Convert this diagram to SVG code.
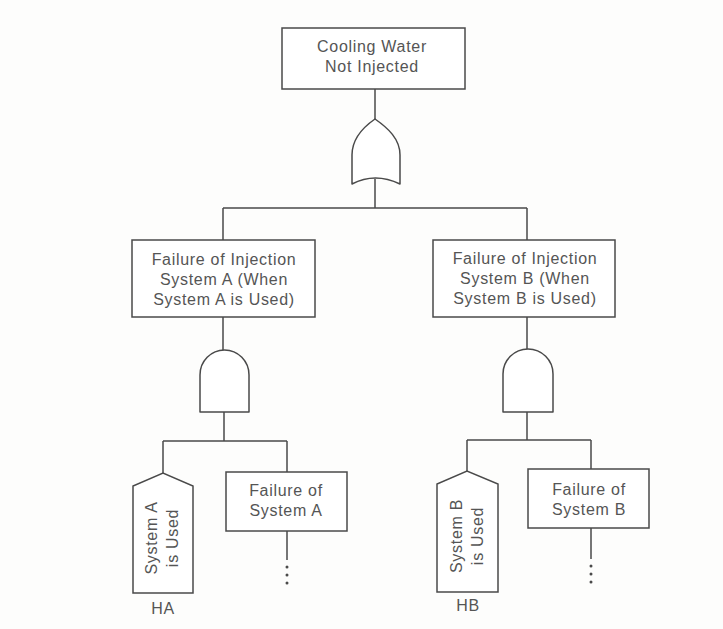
<svg xmlns="http://www.w3.org/2000/svg" width="723" height="629" viewBox="0 0 723 629">
<style>
.bg{fill:#fdfdfc}
.box{fill:#ffffff;stroke:#4a4a4a;stroke-width:1.5}
.gate{fill:#ffffff;stroke:#4a4a4a;stroke-width:1.5;stroke-linejoin:round}
.ln{fill:none;stroke:#4a4a4a;stroke-width:1.5}
.dot{fill:#4a4a4a}
text{font-family:"Liberation Sans",Arial,sans-serif;font-size:16px;fill:#555555;letter-spacing:0.7px;text-anchor:middle}
</style>
<rect class="bg" x="0" y="0" width="723" height="629"/>
<g id="connectors">
<path class="ln" d="M375,89 V119"/>
<path class="ln" d="M375,179 V208 M223,208 H527 M223,208 V240 M527,208 V240"/>
<path class="ln" d="M223,317 V350 M224,412 V441 M163,441 H287 M163,441 V473 M287,441 V472 M287,531 V560"/>
<path class="ln" d="M527,317 V349 M527,412 V440 M467,440 H591 M467,440 V471 M591,440 V469 M591,528 V559"/>
<circle class="dot" cx="287" cy="567" r="1.5"/>
<circle class="dot" cx="287" cy="575" r="1.5"/>
<circle class="dot" cx="287" cy="583" r="1.5"/>
<circle class="dot" cx="591" cy="566" r="1.5"/>
<circle class="dot" cx="591" cy="574" r="1.5"/>
<circle class="dot" cx="591" cy="582" r="1.5"/>
</g>
<g id="top-event">
<rect class="box" x="282" y="28" width="183" height="61"/>
<text x="372" y="52">Cooling Water</text>
<text x="372" y="72">Not Injected</text>
</g>
<g id="or-gate">
<path class="gate" d="M375,119 C362,128 352,139 352,155 L352,184 Q375,172 400,184 L400,155 C400,139 388,128 375,119 Z"/>
</g>
<g id="failure-a">
<rect class="box" x="132" y="240" width="183" height="77"/>
<text x="224" y="265">Failure of Injection</text>
<text x="224" y="285">System A (When</text>
<text x="224" y="305">System A is Used)</text>
</g>
<g id="failure-b">
<rect class="box" x="433" y="240" width="182" height="77"/>
<text x="525" y="264">Failure of Injection</text>
<text x="525" y="284">System B (When</text>
<text x="525" y="304">System B is Used)</text>
</g>
<g id="and-gate-a">
<path class="gate" d="M200,412 L200,375 A24.5,25 0 0 1 249,375 L249,412 Z"/>
</g>
<g id="and-gate-b">
<path class="gate" d="M503,412 L503,374 A25,25 0 0 1 553,374 L553,412 Z"/>
</g>
<g id="house-a">
<path class="box" d="M133,593 L133,486 L163,473 L193,486 L193,593 Z"/>
<text transform="translate(157,538) rotate(-90)"><tspan x="0" y="0">System A</tspan><tspan x="0" y="21">is Used</tspan></text>
<text x="163" y="614">HA</text>
</g>
<g id="system-a-failure">
<rect class="box" x="226" y="472" width="121" height="59"/>
<text x="286" y="496">Failure of</text>
<text x="286" y="516">System A</text>
</g>
<g id="house-b">
<path class="box" d="M437,592 L437,484 L467,471 L498,484 L498,592 Z"/>
<text transform="translate(462,536) rotate(-90)"><tspan x="0" y="0">System B</tspan><tspan x="0" y="21">is Used</tspan></text>
<text x="468" y="611">HB</text>
</g>
<g id="system-b-failure">
<rect class="box" x="528" y="469" width="121" height="59"/>
<text x="589" y="495">Failure of</text>
<text x="589" y="515">System B</text>
</g>
</svg>
